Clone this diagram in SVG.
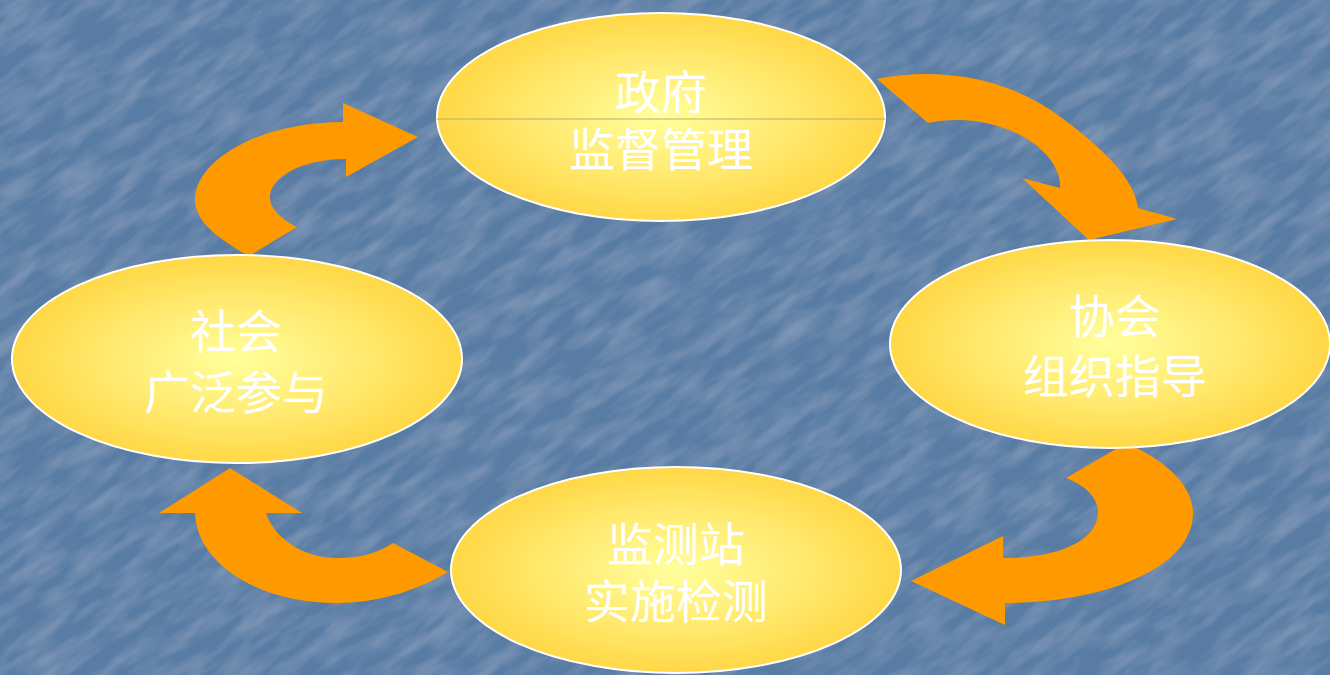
<svg xmlns="http://www.w3.org/2000/svg" width="1330" height="675" viewBox="0 0 1330 675">
  <defs>
    <radialGradient id="yel" cx="50%" cy="50%" r="50%">
      <stop offset="0" stop-color="#ffff9c"/>
      <stop offset="0.55" stop-color="#ffea70"/>
      <stop offset="1" stop-color="#ffd846"/>
    </radialGradient>
    <filter id="tex" x="0" y="0" width="100%" height="100%">
      <feTurbulence type="fractalNoise" baseFrequency="0.02 0.07" numOctaves="3" seed="11" result="n"/>
      <feColorMatrix in="n" type="matrix" values="0 0 0 0 0.8  0 0 0 0 0.88  0 0 0 0 1  0 0 0 0.28 -0.1"/>
      <feComposite in2="SourceGraphic" operator="over"/>
    </filter>
  </defs>
  <style>
    .node ellipse { fill: url(#yel); stroke: #ffffff; stroke-width: 2; }
    .node text { fill: #ffffff; font-family: "Noto Sans CJK SC", "Noto Sans", sans-serif; font-size: 46px; text-anchor: middle; }
    .arrow { fill: #ff9900; stroke: none; }
  </style>
  <rect x="0" y="0" width="1330" height="675" fill="#587ca4"/>
  <rect x="-500" y="-700" width="2330" height="2075" fill="#587ca4" filter="url(#tex)" transform="rotate(-35 665 337)"/>

  <g id="connectors">
    <path class="arrow" d="M249,256 C220,240 195,222 195,200 C195,160 260,122 343,122 L343,103 L418,137 L346,177 L346,159 C300,159 270,178 270,197 C270,210 283,220 297,227 Z"/>
    <path class="arrow" d="M877,79 C940,66 1010,78 1062,118 C1105,150 1135,180 1138,208 L1177,219 L1089,240 L1022,178 L1060,188 C1062,165 1035,130 975,121 C958,119 942,120 928,123 Z"/>
    <path class="arrow" d="M1126,443 C1165,460 1193,485 1193,513 C1193,570 1100,603 1005,603 L1005,625 L911,581 L1003,536 L1003,558 C1060,558 1098,540 1098,512 C1098,498 1085,485 1066,478 Z"/>
    <path class="arrow" d="M230,468 L302,513 L266,513 C275,540 305,558 337,558 C360,558 378,553 393,543 L448,572 C415,592 375,603 337,603 C260,603 197,565 195,513 L159,513 Z"/>
  </g>

  <g id="node-gov" class="node">
    <ellipse cx="661" cy="117" rx="224" ry="104"/>
    <line x1="437" y1="119" x2="885" y2="119" stroke="#b8ac78" stroke-width="1"/>
    <text x="661" y="109">政府</text>
    <text x="661" y="166">监督管理</text>
  </g>
  <g id="node-assoc" class="node">
    <ellipse cx="1110" cy="344" rx="220" ry="104"/>
    <text x="1115" y="333">协会</text>
    <text x="1115" y="393">组织指导</text>
  </g>
  <g id="node-station" class="node">
    <ellipse cx="676" cy="570" rx="225" ry="103"/>
    <text x="676" y="561">监测站</text>
    <text x="676" y="618">实施检测</text>
  </g>
  <g id="node-society" class="node">
    <ellipse cx="237" cy="359" rx="225" ry="104"/>
    <text x="236" y="348">社会</text>
    <text x="236" y="409">广泛参与</text>
  </g>
</svg>
